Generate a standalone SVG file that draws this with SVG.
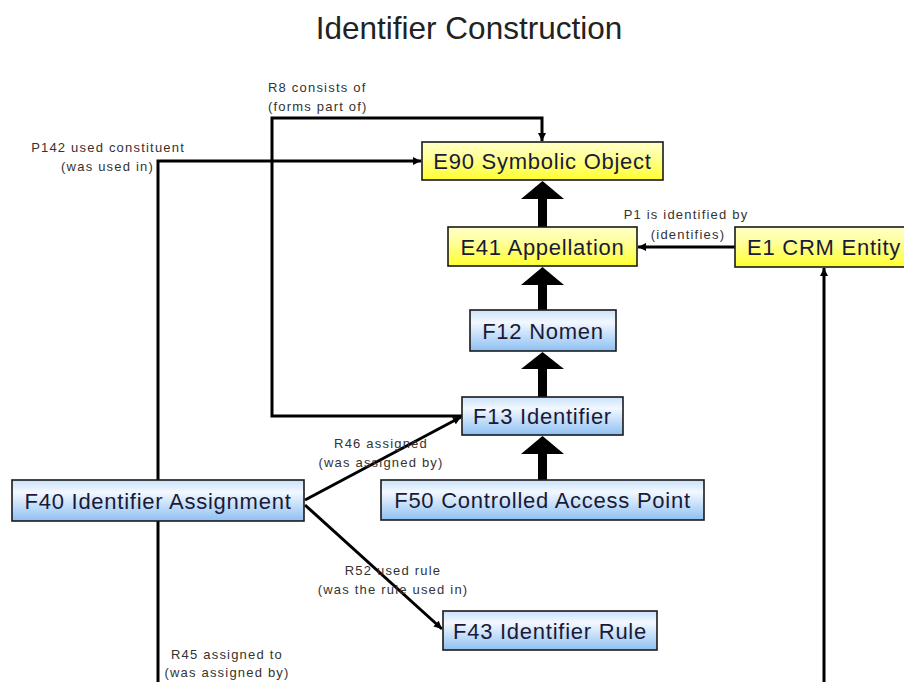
<svg xmlns="http://www.w3.org/2000/svg" width="904" height="682" viewBox="0 0 904 682">
<defs>
<linearGradient id="gBlue" x1="0" y1="0" x2="0" y2="1">
<stop offset="0" stop-color="#c9e1fb"/>
<stop offset="0.3" stop-color="#f3f8ff"/>
<stop offset="1" stop-color="#8dc0f2"/>
</linearGradient>
<linearGradient id="gYellow" x1="0" y1="0" x2="0" y2="1">
<stop offset="0" stop-color="#ffffc8"/>
<stop offset="0.35" stop-color="#ffffa0"/>
<stop offset="1" stop-color="#ffff30"/>
</linearGradient>
<marker id="arr" viewBox="0 0 10 10" refX="10" refY="5" markerWidth="9" markerHeight="8" markerUnits="userSpaceOnUse" orient="auto">
<path d="M0,0 L10,5 L0,10 z" fill="#000"/>
</marker>
<style>
.box{stroke:#1a1a1a;stroke-width:1.6}
.blue{fill:url(#gBlue)}
.yellow{fill:url(#gYellow)}
.nt{font-family:"Liberation Sans",Arial,sans-serif;font-size:22px;letter-spacing:0.75px;fill:#1a1a38;text-anchor:middle}
.lbl{font-family:"Liberation Sans",Arial,sans-serif;font-size:13px;letter-spacing:1.2px;fill:#333;text-anchor:middle}
.lblr{font-family:"Liberation Sans",Arial,sans-serif;font-size:13px;letter-spacing:1.2px;fill:#333;text-anchor:end}
.lbll{font-family:"Liberation Sans",Arial,sans-serif;font-size:13px;letter-spacing:1.2px;fill:#333;text-anchor:start}
.c{fill:none;stroke:#000;stroke-width:3}
.thick{fill:#000}
.title{font-family:"Liberation Sans",Arial,sans-serif;font-size:31.5px;fill:#222;text-anchor:middle}
</style>
</defs>
<rect width="904" height="682" fill="#fff"/>
<text class="title" x="469" y="39">Identifier Construction</text>

<g id="connectors">
<!-- R8 consists of -->
<path class="c" d="M462,416 H272 V118 H542 V141" marker-end="url(#arr)"/>
<text class="lbll" x="268" y="92">R8 consists of</text>
<text class="lbll" x="268" y="111">(forms part of)</text>
<!-- P142 used constituent -->
<path class="c" d="M158,480 V161 H421" marker-end="url(#arr)"/>
<text class="lblr" x="185" y="152">P142 used constituent</text>
<text class="lblr" x="154" y="171">(was used in)</text>
<!-- P1 is identified by -->
<path class="c" d="M735,247 H638" marker-end="url(#arr)"/>
<text class="lbl" x="686" y="219">P1 is identified by</text>
<text class="lbl" x="688" y="239">(identifies)</text>
<!-- R46 assigned -->
<path class="c" d="M305,500 L461,417" marker-end="url(#arr)"/>
<text class="lbl" x="381" y="448">R46 assigned</text>
<text class="lbl" x="381" y="467">(was assigned by)</text>
<!-- R52 used rule -->
<path class="c" d="M305,505 L442,629" marker-end="url(#arr)"/>
<text class="lbl" x="393" y="575">R52 used rule</text>
<text class="lbl" x="393" y="594">(was the rule used in)</text>
<!-- R45 assigned to -->
<path class="c" d="M158,521 V682"/>
<path class="c" d="M824,682 V268" marker-end="url(#arr)"/>
<text class="lbl" x="227" y="659">R45 assigned to</text>
<text class="lbl" x="227" y="677">(was assigned by)</text>
<!-- thick IsA arrows -->
<rect class="thick" x="538" y="196" width="9" height="32"/>
<polygon class="thick" points="521,199 564,199 542.5,181"/>
<rect class="thick" x="538" y="282" width="9" height="29"/>
<polygon class="thick" points="521,285 564,285 542.5,267"/>
<rect class="thick" x="538" y="366" width="9" height="32"/>
<polygon class="thick" points="521,369 564,369 542.5,352"/>
<rect class="thick" x="538" y="451" width="9" height="30"/>
<polygon class="thick" points="521,454 564,454 542.5,436"/>
</g>

<g id="E90">
<rect class="box yellow" x="422" y="142" width="241" height="38"/>
<text class="nt" x="542.5" y="169">E90 Symbolic Object</text>
</g>
<g id="E41">
<rect class="box yellow" x="448" y="227" width="189" height="39"/>
<text class="nt" x="542.5" y="254.5">E41 Appellation</text>
</g>
<g id="E1">
<rect class="box yellow" x="735" y="227" width="178" height="40"/>
<text class="nt" x="824" y="255">E1 CRM Entity</text>
</g>
<g id="F12">
<rect class="box blue" x="470" y="310" width="146" height="41"/>
<text class="nt" x="543" y="338.5">F12 Nomen</text>
</g>
<g id="F13">
<rect class="box blue" x="462" y="397" width="161" height="38"/>
<text class="nt" x="542.5" y="424">F13 Identifier</text>
</g>
<g id="F50">
<rect class="box blue" x="381" y="480" width="323" height="40"/>
<text class="nt" x="542.5" y="508">F50 Controlled Access Point</text>
</g>
<g id="F40">
<rect class="box blue" x="12" y="480" width="292" height="41"/>
<text class="nt" x="158" y="508.5">F40 Identifier Assignment</text>
</g>
<g id="F43">
<rect class="box blue" x="443" y="611" width="214" height="39"/>
<text class="nt" x="550" y="638.5">F43 Identifier Rule</text>
</g>
</svg>
